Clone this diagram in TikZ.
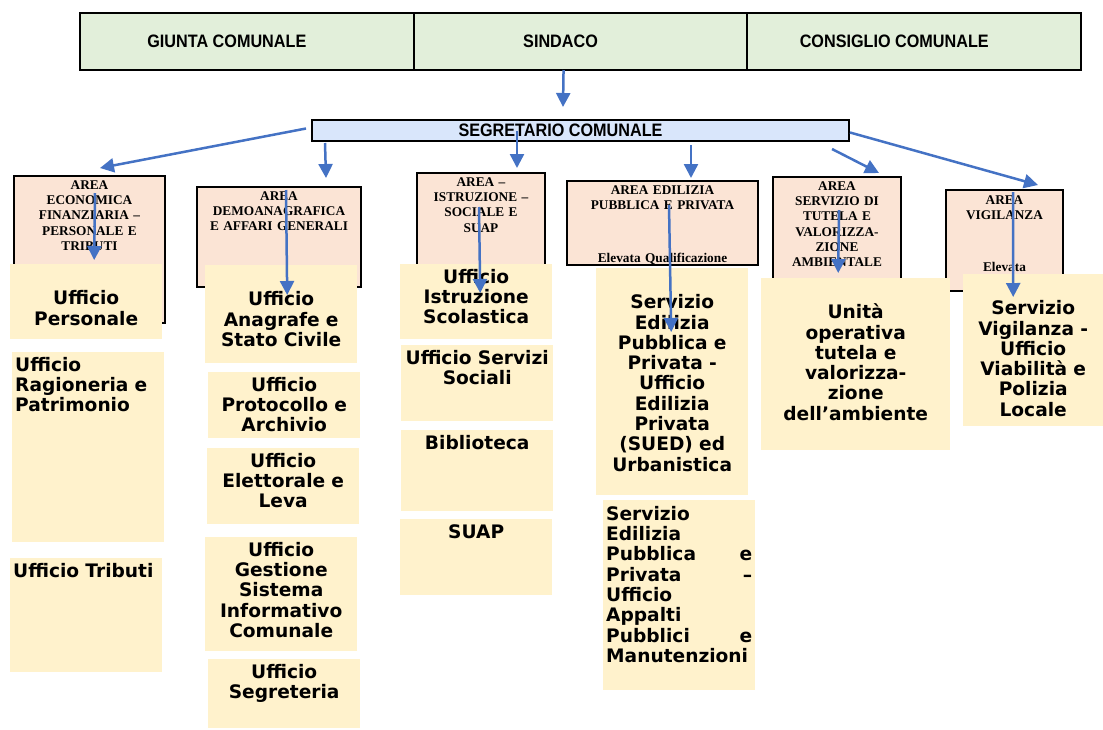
\documentclass[tikz,border=0pt]{standalone}
\usepackage{fontspec}
\setmainfont{Liberation Serif}
\newfontfamily\barfont[FakeStretch=0.9]{Liberation Sans}
\newfontfamily\offfont{DejaVu Sans}
\usetikzlibrary{arrows.meta,positioning}
\definecolor{bargreen}{HTML}{E2EFDA}
\definecolor{segblue}{HTML}{D9E6FB}
\definecolor{areapink}{HTML}{FBE4D5}
\definecolor{offcream}{HTML}{FFF2CC}
\definecolor{arrowblue}{HTML}{4472C4}
\tikzset{
  cell/.style={rectangle, draw=black, line width=1pt, fill=bargreen, anchor=north west, inner sep=0pt, minimum height=56pt, minimum width=332.7pt, font=\barfont\bfseries\fontsize{18}{20}\selectfont},
  barframe/.style={draw=black, line width=2.2pt},
  segbox/.style={rectangle, draw=black, line width=2pt, fill=segblue, anchor=north west, inner sep=0pt, font=\barfont\bfseries\fontsize{18}{20}\selectfont},
  area/.style={rectangle, draw=black, line width=2pt, fill=areapink, anchor=north west, inner xsep=2pt, inner ysep=0pt, align=center, text height=13.5pt, font=\bfseries\fontsize{13.3}{15.2}\selectfont},
  office/.style={rectangle, fill=offcream, anchor=north west, inner xsep=3pt, inner ysep=0pt, align=center, text width=146pt, text height=19pt, font=\offfont\bfseries\fontsize{18.6}{20.3}\selectfont},
  lowtext/.style={text height=40.5pt},
  arr/.style={-{Triangle[length=14pt,width=14pt]}, line width=2.5pt, draw=arrowblue},
}
\begin{document}
\begin{tikzpicture}[x=1pt,y=-1pt]
  \useasboundingbox (0,0) rectangle (1103,729);
  \node[cell] (giunta) at (80,13) {GIUNTA COMUNALE\hspace*{40pt}};
  \node[cell] (sindaco) at (giunta.north east) {SINDACO\hspace*{40pt}};
  \node[cell] (consiglio) at (sindaco.north east) {CONSIGLIO COMUNALE\hspace*{40pt}};
  \draw[barframe] (giunta.north west) rectangle (consiglio.south east);
  \node[segbox, minimum width=537pt, minimum height=21pt] (segr) at (311,119) {SEGRETARIO COMUNALE\hspace*{40pt}};

  \node[area, text width=147pt, text depth=133.5pt] (aeco) at (13,175) {AREA\\ECONOMICA\\FINANZIARIA –\\PERSONALE E\\TRIBUTI};
  \node[area, text width=160pt, text depth=86.5pt] (ademo) at (196,186) {AREA\\DEMOANAGRAFICA\\E AFFARI GENERALI};
  \node[area, text width=124pt, text depth=94.5pt] (aistr) at (416,172) {AREA –\\ISTRUZIONE –\\SOCIALE E\\SUAP};
  \node[area, text width=187pt, text depth=70.5pt] (aedil) at (566,180) {AREA EDILIZIA\\PUBBLICA E PRIVATA\\[38pt]Elevata Qualificazione};
  \node[area, text width=124pt, text depth=100.5pt] (atut) at (772,176) {AREA\\SERVIZIO DI\\TUTELA E\\VALORIZZA-\\ZIONE\\AMBIENTALE};
  \node[area, text width=113pt, text height=14pt, text depth=87pt] (avig) at (945,189) {AREA\\VIGILANZA\\[37.5pt]Elevata\\Qualificazione};

  \node[office, lowtext, text depth=34.5pt] (uper) at (10,264) {Ufficio\\Personale};
  \node[office, align=left, text depth=171pt] (urag) at (12,352) {Ufficio\\Ragioneria e\\Patrimonio};
  \node[office, align=left, text depth=95pt] (utrib) at (10,558) {Ufficio Tributi};
  \node[office, lowtext, text depth=57.5pt] (uanag) at (205,265) {Ufficio\\Anagrafe e\\Stato Civile};
  \node[office, text depth=47pt] (uprot) at (208,372) {Ufficio\\Protocollo e\\Archivio};
  \node[office, text depth=57pt] (uelet) at (207,448) {Ufficio\\Elettorale e\\Leva};
  \node[office, text depth=95pt] (ugest) at (205,537) {Ufficio\\Gestione\\Sistema\\Informativo\\Comunale};
  \node[office, text depth=50pt] (usegr) at (208,659) {Ufficio\\Segreteria};
  \node[office, text depth=56pt] (uistr) at (400,264) {Ufficio\\Istruzione\\Scolastica};
  \node[office, text depth=57pt] (usoc) at (401,345) {Ufficio Servizi\\Sociali};
  \node[office, text depth=62pt] (bibl) at (401,430) {Biblioteca};
  \node[office, text depth=57pt] (suap) at (400,519) {SUAP};
  \node[office, lowtext, text depth=186.5pt] (sedil) at (596,268) {Servizio\\Edilizia\\Pubblica e\\Privata -\\Ufficio\\Edilizia\\Privata\\(SUED) ed\\Urbanistica};
  \node[office, align=left, text height=20pt, text depth=170pt] (sappal) at (603,500) {Servizio\\Edilizia\\Pubblica\hfill e\\Privata\hfill –\\Ufficio\\Appalti\\Pubblici\hfill e\\Manutenzioni};
  \node[office, lowtext, text width=183pt, text depth=131.5pt] (utut) at (761,278) {Unità\\operativa\\tutela e\\valorizza-\\zione\\dell’ambiente};
  \node[office, lowtext, text width=134pt, text depth=111.5pt] (svig) at (963,274) {Servizio\\Vigilanza -\\Ufficio\\Viabilità e\\Polizia\\Locale};

  \draw[arr] ([xshift=-17pt]sindaco.south) -- ([xshift=-17.5pt,yshift=12pt]segr.north);
  \draw[arr] ([xshift=-5pt,yshift=2pt]segr.west) -- ([xshift=10.5pt,yshift=7pt]aeco.north);
  \draw[arr] ([xshift=14pt,yshift=-1pt]segr.south west) -- ([xshift=47pt,yshift=8pt]ademo.north);
  \draw[arr] ([xshift=-63.5pt,yshift=-12pt]segr.north) -- ([xshift=36pt,yshift=4pt]aistr.north);
  \draw[arr] ([xshift=110.5pt,yshift=-3pt]segr.south) -- ([xshift=28.5pt,yshift=2pt]aedil.north);
  \draw[arr] ([xshift=-18pt,yshift=-7pt]segr.south east) -- ([xshift=42pt,yshift=3pt]atut.north);
  \draw[arr] ([yshift=-2pt]segr.east) -- ([xshift=33.5pt,yshift=4pt]avig.north);
  \draw[arr] ([xshift=5.5pt,yshift=-18pt]aeco.north) -- ([xshift=8pt,yshift=4pt]uper.north);
  \draw[arr] ([xshift=7pt,yshift=-4pt]ademo.north) -- ([xshift=6pt,yshift=-30pt]uanag.north);
  \draw[arr] ([xshift=-2pt,yshift=-35pt]aistr.north) -- ([xshift=4pt,yshift=-29pt]uistr.north);
  \draw[arr] ([xshift=6.5pt,yshift=-25pt]aedil.north) -- ([xshift=-1pt,yshift=-64pt]sedil.north);
  \draw[arr] ([xshift=2pt,yshift=-34pt]atut.north) -- ([xshift=-17.5pt,yshift=5pt]utut.north);
  \draw[arr] ([xshift=8.5pt,yshift=-3pt]avig.north) -- ([xshift=-20pt,yshift=-23pt]svig.north);
\end{tikzpicture}
\end{document}
